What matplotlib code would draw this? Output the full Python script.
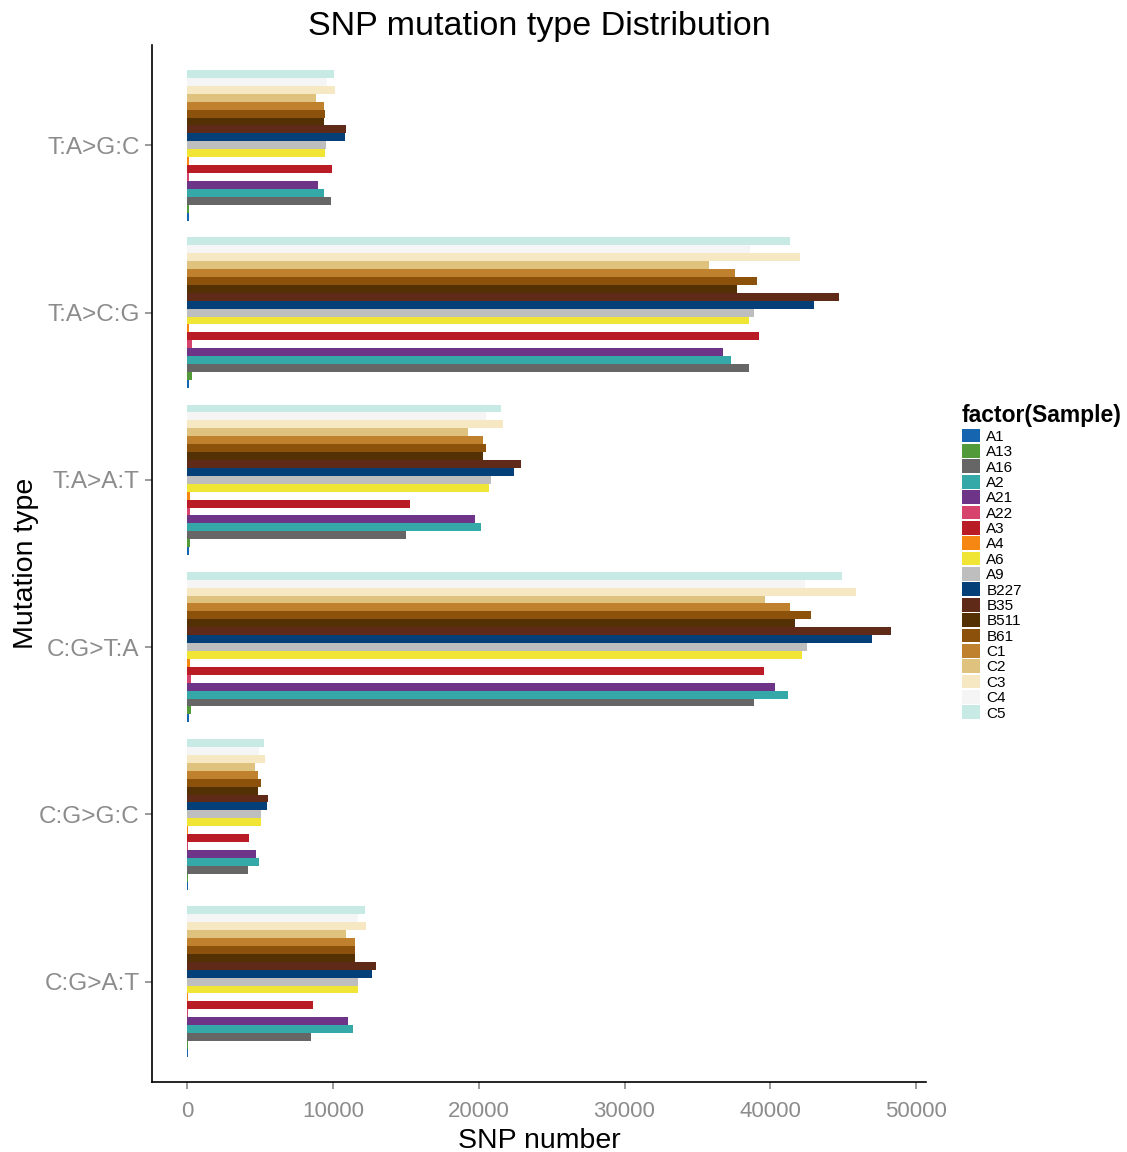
import numpy as np
import matplotlib.pyplot as plt
from matplotlib.patches import Patch

plt.rcParams['font.family'] = ['Liberation Sans', 'DejaVu Sans']

# mutation types, bottom to top
mut_types = ['C:G>A:T', 'C:G>G:C', 'C:G>T:A', 'T:A>A:T', 'T:A>C:G', 'T:A>G:C']

samples = ['A1', 'A13', 'A16', 'A2', 'A21', 'A22', 'A3', 'A4', 'A6', 'A9',
           'B227', 'B35', 'B511', 'B61', 'C1', 'C2', 'C3', 'C4', 'C5']

sample_colors = ['#1565B0', '#529A3A', '#666666', '#35A9A8', '#6D3488', '#D6446E',
                 '#BA1C25', '#F68712', '#F0E534', '#BEBEBE', '#053F77', '#5F2A17',
                 '#543005', '#8C510A', '#BF812D', '#DFC27D', '#F6E8C3', '#F5F5F5',
                 '#C7EAE5']

# SNP counts per sample, one list per mutation type (sample order as above)
cg_at = [40, 50, 8500, 11400, 11060, 50, 8640, 50, 11700, 11720,
         12650, 12970, 11490, 11490, 11490, 10920, 12290, 11700, 12180]
cg_gc = [40, 40, 4150, 4900, 4740, 50, 4240, 50, 5040, 5040,
         5470, 5560, 4860, 5060, 4880, 4650, 5340, 4950, 5290]
cg_ta = [150, 260, 38870, 41200, 40300, 260, 39540, 190, 42160, 42500,
         46980, 48270, 41700, 42820, 41360, 39640, 45850, 42390, 44950]
ta_at = [100, 160, 15030, 20180, 19720, 200, 15250, 160, 20720, 20860,
         22410, 22870, 20270, 20470, 20290, 19240, 21680, 20520, 21500]
ta_cg = [150, 300, 38510, 37270, 36730, 300, 39190, 150, 38510, 38850,
         43020, 44730, 37690, 39060, 37550, 35770, 42070, 38580, 41380]
ta_gc = [100, 100, 9850, 9370, 9000, 110, 9960, 110, 9480, 9550,
         10810, 10880, 9390, 9480, 9390, 8850, 10150, 9620, 10080]

counts = np.array([cg_at, cg_gc, cg_ta, ta_at, ta_cg, ta_gc])

fig = plt.figure(figsize=(11.27, 11.52), dpi=100)
ax = fig.add_axes([0.1349, 0.0608, 0.6868, 0.9002])

n = len(samples)
group_w = 0.9
bar_h = group_w / n
pos = np.arange(1, len(mut_types) + 1)
for i, s in enumerate(samples):
    off = -group_w / 2 + (i + 0.5) * bar_h
    ax.barh(pos + off, counts[:, i], height=bar_h, color=sample_colors[i],
            linewidth=0)

# ggplot-like expansion of the scales
top = counts.max()
ax.set_xlim(-0.05 * top, 1.05 * top)
ax.set_ylim(0.4, len(mut_types) + 0.6)
ax.set_xticks([0, 10000, 20000, 30000, 40000, 50000])
ax.set_yticks(pos)
ax.set_yticklabels(mut_types)

for side in ['top', 'right']:
    ax.spines[side].set_visible(False)
for side in ['left', 'bottom']:
    ax.spines[side].set_linewidth(1.2)
    ax.spines[side].set_color('black')
ax.tick_params(axis='both', colors='#7f7f7f', length=5, width=1.1)
ax.tick_params(axis='x', labelcolor='#8c8c8c', labelsize=16, pad=9)
ax.tick_params(axis='y', labelcolor='#8c8c8c', labelsize=17.5, pad=4)

ax.set_title('SNP mutation type Distribution', fontsize=24.5, pad=7)
ax.set_xlabel('SNP number', fontsize=20.5, labelpad=4)
ax.set_ylabel('Mutation type', fontsize=20.5, labelpad=0)

handles = [Patch(facecolor=c, edgecolor='none') for c in sample_colors]
leg = fig.legend(handles, samples, title='factor(Sample)', loc='upper left',
                 bbox_to_anchor=(0.8536, 0.649), frameon=False, fontsize=11,
                 handlelength=1.2, handleheight=1.0, labelspacing=0.02,
                 handletextpad=0.4, borderaxespad=0, borderpad=0)
leg.get_title().set_fontsize(16.5)
leg.get_title().set_fontweight('bold')
leg._legend_box.align = 'left'
leg._legend_box.sep = 1

fig.savefig('out.png', dpi=100)
